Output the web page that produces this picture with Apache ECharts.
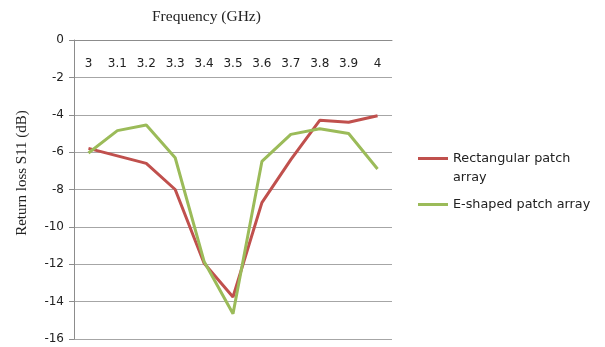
<!DOCTYPE html>
<html>
<head>
<meta charset="utf-8">
<script src="https://cdn.jsdelivr.net/npm/echarts@6/dist/echarts.min.js"></script>
<style>
html, body { margin: 0; padding: 0; background: #fff; }
#chart { width: 605px; height: 347px; }
</style>
</head>
<body>
<div id="chart"></div>
<script>
// frequency points (GHz)
var freqs = ['3', '3.1', '3.2', '3.3', '3.4', '3.5', '3.6', '3.7', '3.8', '3.9', '4'];
// return loss S11 (dB)
var rectArray = [-5.8, -6.2, -6.6, -8.0, -11.95, -13.75, -8.7, -6.4, -4.3, -4.4, -4.05];
var eArray = [-6.05, -4.85, -4.55, -6.3, -11.85, -14.65, -6.5, -5.05, -4.75, -5.0, -6.9];
var yTicks = { min: -16, max: 0, step: 2 };

var myChart = echarts.init(document.getElementById('chart'));
var option = {
    animation: false,
    color: ['#c0504d', '#9bbb59'],
    title: {
        text: 'Frequency (GHz)',
        left: 147,
        top: 4,
        textStyle: {
            fontFamily: 'Liberation Serif',
            fontWeight: 'normal',
            fontSize: 15.5,
            color: '#222'
        }
    },
    legend: {
        orient: 'vertical',
        left: 413,
        top: 125,
        icon: 'rect',
        itemWidth: 30,
        itemHeight: 3,
        itemGap: 8,
        textStyle: {
            fontFamily: 'DejaVu Sans',
            fontSize: 12.8,
            lineHeight: 19,
            color: '#222'
        },
        formatter: function (name) {
            if (name === 'Rectangular patch array') {
                return '\nRectangular patch\narray';
            }
            return name;
        }
    },
    grid: {
        left: 74,
        right: 213,
        top: 40,
        bottom: 8
    },
    xAxis: {
        type: 'category',
        position: 'top',
        boundaryGap: true,
        data: freqs,
        axisLine: { lineStyle: { color: '#8c8c8c', width: 1 } },
        axisTick: { inside: true, length: 5, lineStyle: { color: '#8c8c8c' } },
        axisLabel: {
            inside: true,
            margin: 18,
            fontFamily: 'DejaVu Sans',
            fontSize: 12,
            color: '#222'
        }
    },
    yAxis: {
        type: 'value',
        min: yTicks.min,
        max: yTicks.max,
        interval: yTicks.step,
        name: 'Return loss S11 (dB)',
        nameLocation: 'middle',
        nameGap: 44,
        nameTextStyle: {
            fontFamily: 'Liberation Serif',
            fontSize: 15,
            color: '#222',
            padding: [0, 0, 0, 33]
        },
        axisLine: { show: true, lineStyle: { color: '#8c8c8c', width: 1 } },
        axisTick: { show: true, length: 5, lineStyle: { color: '#8c8c8c' } },
        axisLabel: {
            margin: 10,
            fontFamily: 'DejaVu Sans',
            fontSize: 12,
            color: '#222'
        },
        splitLine: { lineStyle: { color: '#a6a6a6', width: 1 } }
    },
    series: [
        {
            name: 'Rectangular patch array',
            type: 'line',
            data: rectArray,
            symbol: 'none',
            lineStyle: { width: 3 }
        },
        {
            name: 'E-shaped patch array',
            type: 'line',
            data: eArray,
            symbol: 'none',
            lineStyle: { width: 3 }
        }
    ]
};
myChart.setOption(option);
</script>
</body>
</html>
